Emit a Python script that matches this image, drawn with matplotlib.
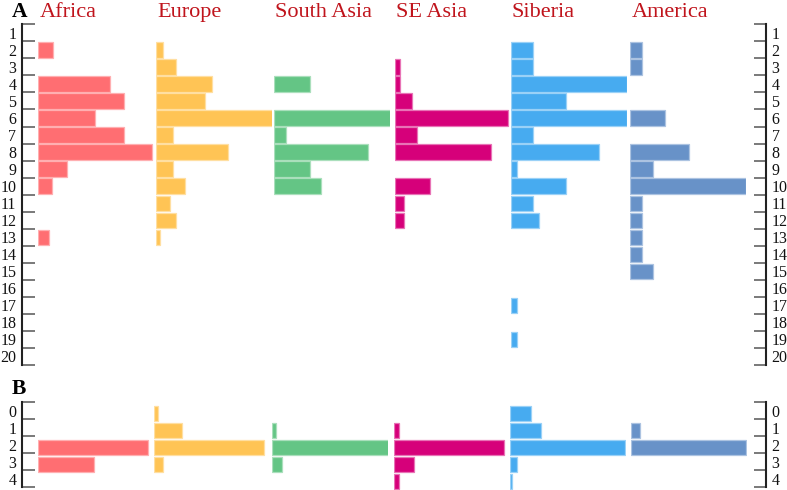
import numpy as np
import matplotlib.pyplot as plt
import matplotlib.colors as mcolors

plt.rcParams['font.family'] = ['Liberation Serif', 'DejaVu Serif']

regions = ['Africa', 'Europe', 'South Asia', 'SE Asia', 'Siberia', 'America']
colors = ['#ff6e72', '#ffc455', '#64c585', '#d6007a', '#47abf0', '#6892c8']

# panel A: categories 1..20, values as % of each region's maximum
rows_a = list(range(1, 21))
africa_a = [0, 12.7, 0, 61.6, 73.6, 49.1, 73.9, 98.3, 24.7, 12.1, 0, 0, 9.2, 0, 0, 0, 0, 0, 0, 0]
europe_a = [0, 5.5, 16.7, 47.8, 41.7, 100.6, 14.1, 61.6, 14.1, 25.0, 11.6, 17.2, 3.2, 0, 0, 0, 0, 0, 0, 0]
sasia_a = [0, 0, 0, 30.5, 0, 100.6, 10.3, 80.5, 30.5, 40.3, 0, 0, 0, 0, 0, 0, 0, 0, 0, 0]
seasia_a = [0, 0, 4.3, 4.3, 15.3, 98.0, 19.2, 83.0, 0, 30.4, 7.8, 7.8, 0, 0, 0, 0, 0, 0, 0, 0]
siberia_a = [0, 19.2, 19.2, 100.3, 47.7, 100.3, 19.2, 76.1, 5.2, 47.7, 19.2, 24.1, 0, 0, 0, 0, 5.2, 0, 5.2, 0]
america_a = [0, 10.1, 10.1, 0, 0, 29.9, 0, 50.3, 19.8, 99.7, 10.1, 10.1, 10.1, 10.1, 19.8, 0, 0, 0, 0, 0]

# panel B: categories 0..4
rows_b = list(range(0, 5))
africa_b = [0, 0, 94.8, 48.0, 0]
europe_b = [3.2, 24.1, 94.6, 7.5, 0]
sasia_b = [0, 3.4, 100.3, 8.1, 0]
seasia_b = [0, 4.3, 94.8, 16.7, 4.3]
siberia_b = [18.1, 27.0, 99.7, 6.3, 2.0]
america_b = [0, 7.8, 98.6, 0, 0]

W, H = 787, 490
fig = plt.figure(figsize=(W / 100, H / 100), dpi=100)


def box(x0, y0, w, h):
    # pixel box measured from the top-left corner -> figure fraction
    return [x0 / W, 1 - (y0 + h) / H, w / W, h / H]


def frame(rect, rows):
    ax = fig.add_axes(rect, facecolor='none', zorder=0)
    n = len(rows)
    ax.set_ylim(n, 0)
    ax.set_xlim(0, 1)
    ax.set_xticks([])
    for s in ['top', 'bottom']:
        ax.spines[s].set_visible(False)
    for s in ['left', 'right']:
        ax.spines[s].set_linewidth(1.5)
        ax.spines[s].set_color('#222222')
    ax.set_yticks(np.arange(n + 1))
    ax.set_yticklabels([])
    ax.set_yticks(np.arange(n) + 0.5, minor=True)
    ax.set_yticklabels([str(r) for r in rows], minor=True)
    ax.tick_params(axis='y', which='major', direction='in', length=9, width=1.1,
                   color='#555555', left=True, right=True)
    ax.tick_params(axis='y', which='minor', length=0, pad=4, labelsize=11.5,
                   labelleft=True, labelright=True, labelcolor='#111111')
    return ax


def bars(x0, y0, h, rows, vals, color):
    ax = fig.add_axes(box(x0, y0, 116, h), facecolor='none', zorder=1)
    edge = mcolors.to_rgba(color)
    edge = tuple(0.55 * c + 0.45 for c in edge[:3])
    vals = np.asarray(vals, dtype=float)
    pos = np.arange(len(rows))
    keep = vals > 0
    ax.barh(pos[keep], vals[keep], height=0.9, color=color,
            edgecolor=edge, linewidth=0.9)
    ax.set_ylim(len(rows) - 0.5, -0.5)
    ax.set_xlim(0, 100)
    ax.axis('off')
    return ax


# panel A
frame(box(22, 24.3, 744, 340.7), rows_a)
starts_a = [38.3, 156.3, 274.3, 394.7, 510.7, 630.3]
data_a = [africa_a, europe_a, sasia_a, seasia_a, siberia_a, america_a]
for x0, vals, col, name in zip(starts_a, data_a, colors, regions):
    bars(x0, 24.3, 340.7, rows_a, vals, col)
    fig.text((x0 + 1) / W, 1 - 17 / H, name, color='#c0141c', fontsize=16,
             va='baseline', ha='left')
fig.text(12 / W, 1 - 17 / H, 'A', fontsize=15.5, fontweight='bold', va='baseline')

# panel B
frame(box(22, 402.3, 744, 85), rows_b)
starts_b = [38.3, 154.0, 272.3, 394.3, 509.7, 631.3]
data_b = [africa_b, europe_b, sasia_b, seasia_b, siberia_b, america_b]
for x0, vals, col in zip(starts_b, data_b, colors):
    bars(x0, 404.8, 85, rows_b, vals, col)
fig.text(12 / W, 1 - 394 / H, 'B', fontsize=15.5, fontweight='bold', va='baseline')

fig.savefig('out.png', dpi=100, facecolor='white')
